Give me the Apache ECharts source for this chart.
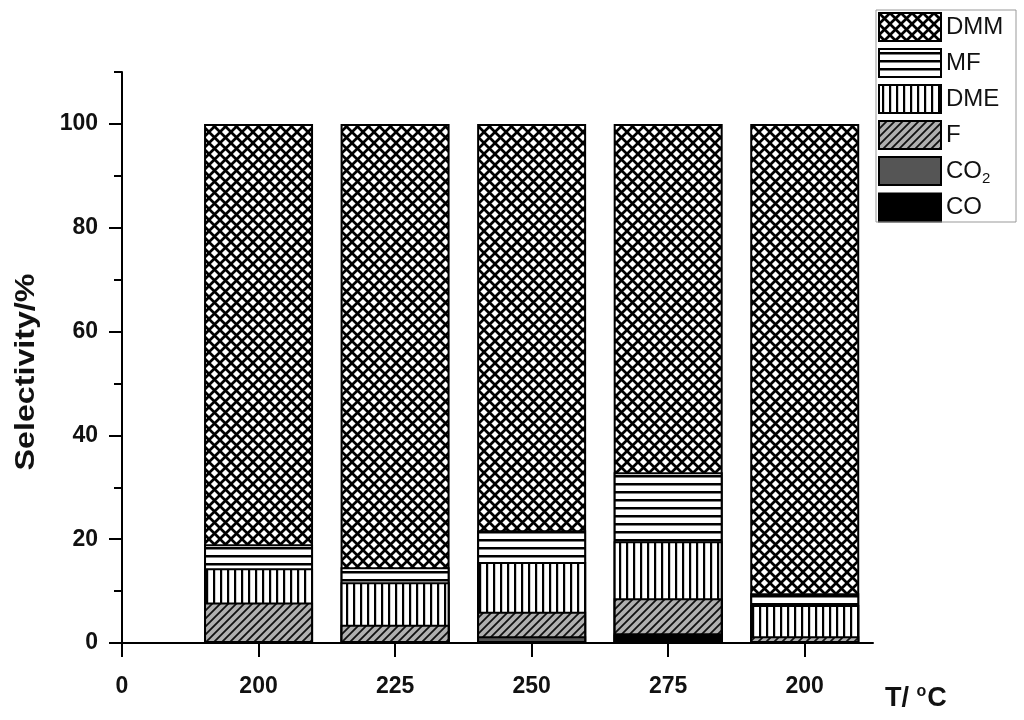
<!DOCTYPE html>
<html>
<head>
<meta charset="utf-8">
<script src="https://cdn.jsdelivr.net/npm/echarts@6/dist/echarts.min.js"></script>
<style>html,body{margin:0;padding:0;background:#fff;}#c{width:1024px;height:720px;}</style>
</head>
<body>
<div id="c"></div>
<script>
// ---- data ----
var categories = ['200', '225', '250', '275', '200'];
var tickLabels = ['0', '200', '225', '250', '275', '200'];
var positions = [1, 2, 3, 4, 5];
var CO  = [0, 0, 0, 1.6, 0];
var CO2 = [0, 0, 1.3, 0.3, 0];
var F   = [7.8, 3.5, 4.7, 6.7, 1.3];
var DME = [6.6, 8.2, 9.6, 11.0, 6.0];
var MF  = [4.6, 2.9, 6.1, 13.3, 2.3];
var DMM = [81.0, 85.4, 78.3, 67.1, 90.4];
var yTicks = [0, 20, 40, 60, 80, 100];
var yMinorTicks = [0, 10, 20, 30, 40, 50, 60, 70, 80, 90, 100, 110];

// ---- patterns ----
function mk(w, h, draw) {
  var c = document.createElement('canvas');
  c.width = w; c.height = h;
  var g = c.getContext('2d');
  draw(g, w, h);
  return { image: c, repeat: 'repeat' };
}
var patCross = mk(11, 11, function (g, w, h) {
  g.fillStyle = '#fff'; g.fillRect(0, 0, w, h);
  g.strokeStyle = '#000'; g.lineWidth = 2.7;
  g.beginPath();
  g.moveTo(-2, -2); g.lineTo(w + 2, h + 2);
  g.moveTo(w + 2, -2); g.lineTo(-2, h + 2);
  g.stroke();
});
var patHoriz = mk(8, 8, function (g, w, h) {
  g.fillStyle = '#fff'; g.fillRect(0, 0, w, h);
  g.fillStyle = '#000'; g.fillRect(0, 3, w, 2.5);
});
var patVert = mk(7, 7, function (g, w, h) {
  g.fillStyle = '#fff'; g.fillRect(0, 0, w, h);
  g.fillStyle = '#000'; g.fillRect(3, 0, 2.2, h);
});
var patDiag = mk(8, 8, function (g, w, h) {
  g.fillStyle = '#b0b0b0'; g.fillRect(0, 0, w, h);
  g.strokeStyle = '#111'; g.lineWidth = 1.8;
  g.beginPath();
  g.moveTo(0, h); g.lineTo(w, 0);
  g.moveTo(-1, 1); g.lineTo(1, -1);
  g.moveTo(w - 1, h + 1); g.lineTo(w + 1, h - 1);
  g.stroke();
});

// stacking order bottom -> top
var layers = [
  { name: 'CO', values: CO, color: '#000' },
  { name: 'CO2', values: CO2, color: '#555' },
  { name: 'F', values: F, color: patDiag },
  { name: 'DME', values: DME, color: patVert },
  { name: 'MF', values: MF, color: patHoriz },
  { name: 'DMM', values: DMM, color: patCross }
];
// cumulative tops (each bar drawn from 0 to its cumulative top; lower layers painted over upper ones)
var running = positions.map(function () { return 0; });
layers.forEach(function (L) {
  L.top = L.values.map(function (v, i) { running[i] += v; return running[i]; });
});
var series = layers.slice().reverse().map(function (L) {
  return {
    name: L.name, type: 'bar', barWidth: 109, barGap: '-100%',
    data: L.top.map(function (t, i) { return [positions[i], t]; }),
    itemStyle: { color: L.color, borderColor: '#000', borderWidth: 2 },
    emphasis: { disabled: true }
  };
});

var font = 'Liberation Sans, Arial, sans-serif';
var chart = echarts.init(document.getElementById('c'), null, { renderer: 'canvas' });
chart.setOption({
  animation: false,
  backgroundColor: '#fff',
  grid: { left: 122, right: 151, top: 72, bottom: 77, containLabel: false },
  xAxis: {
    type: 'value', min: 0, max: 5.5, interval: 1,
    axisLine: { onZero: false, lineStyle: { color: '#000', width: 2 } },
    axisTick: { length: 14, customValues: [0, 1, 2, 3, 4, 5], lineStyle: { color: '#000', width: 2 } },
    splitLine: { show: false },
    axisLabel: {
      margin: 32, color: '#111', fontSize: 23, fontWeight: 'bold', fontFamily: font,
      customValues: [0, 1, 2, 3, 4, 5],
      formatter: function (v) { var k = Math.round(v); return tickLabels[k] !== undefined ? tickLabels[k] : ''; }
    }
  },
  yAxis: [{
    type: 'value', min: 0, max: 110, interval: 10,
    axisLine: { show: true, lineStyle: { color: '#000', width: 2 } },
    axisTick: { show: true, length: 13, customValues: yTicks, lineStyle: { color: '#000', width: 2 } },
    splitLine: { show: false },
    axisLabel: {
      margin: 24, color: '#111', fontSize: 23, fontWeight: 'bold', fontFamily: font,
      customValues: yTicks,
      formatter: function (v) { return String(v); }
    }
  }, {
    type: 'value', min: 0, max: 110, interval: 10, position: 'left',
    axisLine: { show: false },
    axisTick: { show: true, length: 8, customValues: yMinorTicks, lineStyle: { color: '#000', width: 2 } },
    splitLine: { show: false },
    axisLabel: { show: false }
  }],
  legend: {
    orient: 'vertical', left: 878, top: 12, padding: 0,
    icon: 'rect',
    itemWidth: 62, itemHeight: 28, itemGap: 6,
    data: ['DMM', 'MF', 'DME', 'F', 'CO2', 'CO'],
    textStyle: {
      fontSize: 24, color: '#111', fontFamily: font,
      rich: {
        b: { fontSize: 24, color: '#111', fontFamily: font },
        s: { fontSize: 15, color: '#111', fontFamily: font, padding: [16, 0, 0, 0] }
      }
    },
    formatter: function (n) { return n === 'CO2' ? '{b|CO}{s|2}' : n; },
    selectedMode: false
  },
  graphic: [
    { type: 'rect', shape: { x: 876, y: 10, width: 140, height: 212 },
      style: { fill: 'none', stroke: '#999', lineWidth: 1 }, z: 100 },
    { type: 'text', x: 26, y: 372, rotation: Math.PI / 2, scaleX: 1.15,
      style: { text: 'Selectivity/%', font: 'bold 28px Liberation Sans, Arial, sans-serif', fill: '#111',
               align: 'center', verticalAlign: 'middle' } },
    { type: 'text', x: 885, y: 684,
      style: {
        text: '{a|T/ }{o|o}{a|C}', fill: '#111',
        rich: {
          a: { fontSize: 27, fontWeight: 'bold', fontFamily: font, fill: '#111' },
          o: { fontSize: 16, fontWeight: 'bold', fontFamily: font, fill: '#111', padding: [0, 1, 14, 0] }
        }
      } }
  ],
  series: series
});
</script>
</body>
</html>
